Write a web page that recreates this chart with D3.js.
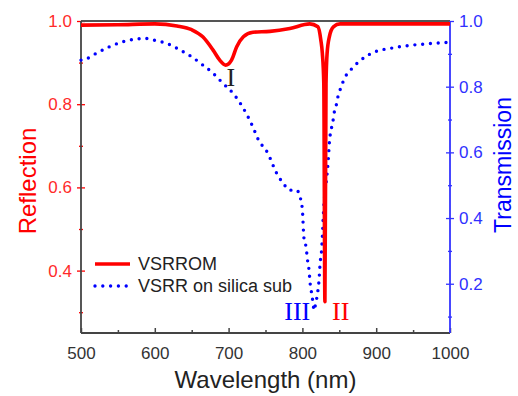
<!DOCTYPE html>
<html>
<head>
<meta charset="utf-8">
<style>
    body { margin: 0; background: #fff; }
    svg { display: block; font-family: "Liberation Sans", Arial, sans-serif; }
    .axis .domain { display: none; }
</style>
</head>
<body>
<svg width="518" height="396"></svg>
<script src="https://d3js.org/d3.v7.min.js"></script>
<script>
// reflection of VSRROM (red, left axis)
let reflWl  = [500, 550, 600, 630, 650, 665, 679, 688, 696, 704, 711, 720, 733, 756, 783, 810, 821, 825, 827, 829, 830.5, 832, 833.5, 836.5, 842, 851, 900, 1000];
let reflVal = [0.990, 0.991, 0.993, 0.988, 0.979, 0.962, 0.930, 0.906, 0.894, 0.906, 0.938, 0.962, 0.973, 0.975, 0.982, 0.993, 0.986, 0.954, 0.923, 0.85, 0.325, 0.85, 0.923, 0.962, 0.986, 0.993, 0.993, 0.993];

// transmission of VSRR on silica (blue dotted, right axis)
let transWl  = [500, 505, 521, 539, 557, 575, 587, 598, 616, 634, 650, 665, 679, 692, 706, 719, 733, 740, 753, 765, 774, 783, 792, 797, 800, 802, 805, 807, 809, 810.5, 812.5, 814.5, 815.7, 818, 820.5, 822.5, 824, 826, 827, 828, 829, 830.5, 833, 835, 836.5, 838, 841, 843, 846.5, 848, 852, 858, 865, 876, 898, 920, 943, 966, 1000];
let transVal = [0.881, 0.883, 0.902, 0.922, 0.937, 0.945, 0.947, 0.942, 0.932, 0.912, 0.891, 0.866, 0.841, 0.811, 0.780, 0.738, 0.677, 0.640, 0.598, 0.537, 0.506, 0.485, 0.485, 0.463, 0.424, 0.341, 0.311, 0.271, 0.241, 0.201, 0.171, 0.140, 0.119, 0.140, 0.171, 0.210, 0.262, 0.302, 0.341, 0.393, 0.433, 0.476, 0.524, 0.576, 0.628, 0.659, 0.689, 0.720, 0.750, 0.768, 0.796, 0.830, 0.850, 0.875, 0.906, 0.917, 0.925, 0.930, 0.935];

let xTicks = [500, 600, 700, 800, 900, 1000];
let xMinor = [550, 650, 750, 850, 950];
let reflTicks = [0.4, 0.6, 0.8, 1.0];
let reflMinor = [0.3, 0.5, 0.7, 0.9];
let transTicks = [0.2, 0.4, 0.6, 0.8, 1.0];
let transMinor = [0.1, 0.3, 0.5, 0.7, 0.9];

let margin = { top: 21, right: 68, bottom: 63, left: 81 };
let width = 518, height = 396;
let svg = d3.select("svg");

let red = "#ff0000", blue = "#0000ff", gray = "#444";

let x = d3.scaleLinear().domain([500, 1000]).range([margin.left, width - margin.right]);
let yR = d3.scaleLinear().domain([0.25, 1.0]).range([height - margin.bottom, margin.top]);
let yT = d3.scaleLinear().domain([0.05, 1.0]).range([height - margin.bottom, margin.top]);

let x0 = x.range()[0], x1 = x.range()[1];
let yb = yR.range()[0], yt = yR.range()[1];

// bottom axis, ticks pointing in
let xAxis = svg.append("g").attr("class", "axis").attr("transform", `translate(0,${yb})`)
    .call(d3.axisBottom(x).tickValues(xTicks).tickSize(-5).tickPadding(10).tickFormat(d3.format("d")));
xAxis.selectAll("line").attr("stroke", gray).attr("stroke-width", 1.5);
xAxis.selectAll("text").attr("fill", "#333").style("font-size", "17px").attr("dy", "0.95em");
svg.append("g").attr("class", "axis").attr("transform", `translate(0,${yb})`)
    .call(d3.axisBottom(x).tickValues(xMinor).tickSize(-3).tickFormat(""))
    .selectAll("line").attr("stroke", gray).attr("stroke-width", 1.5);

// left axis (reflection)
let lAxis = svg.append("g").attr("class", "axis").attr("transform", `translate(${x0 + 4},0)`)
    .call(d3.axisLeft(yR).tickValues(reflTicks).tickSize(8).tickPadding(5).tickFormat(d3.format(".1f")));
lAxis.selectAll("line").attr("stroke", red).attr("stroke-width", 1.3);
lAxis.selectAll("text").attr("fill", "#ff2a2a").style("font-size", "17px");
svg.append("g").attr("class", "axis").attr("transform", `translate(${x0 + 2},0)`)
    .call(d3.axisLeft(yR).tickValues(reflMinor).tickSize(4).tickFormat(""))
    .selectAll("line").attr("stroke", red).attr("stroke-width", 1.3);

// right axis (transmission)
let rAxis = svg.append("g").attr("class", "axis").attr("transform", `translate(${x1 - 4},0)`)
    .call(d3.axisRight(yT).tickValues(transTicks).tickSize(8).tickPadding(5).tickFormat(d3.format(".1f")));
rAxis.selectAll("line").attr("stroke", "#3333ff").attr("stroke-width", 1.3);
rAxis.selectAll("text").attr("fill", "#3030ff").style("font-size", "17px");
svg.append("g").attr("class", "axis").attr("transform", `translate(${x1 - 2},0)`)
    .call(d3.axisRight(yT).tickValues(transMinor).tickSize(4).tickFormat(""))
    .selectAll("line").attr("stroke", "#3333ff").attr("stroke-width", 1.3);

// frame lines
svg.append("line").attr("x1", x0).attr("x2", x1).attr("y1", yt).attr("y2", yt).attr("stroke", "#555").attr("stroke-width", 1.8);
svg.append("line").attr("x1", x0).attr("x2", x1).attr("y1", yb).attr("y2", yb).attr("stroke", gray).attr("stroke-width", 1.8);
svg.append("line").attr("x1", x0).attr("x2", x0).attr("y1", yt).attr("y2", yb).attr("stroke", gray).attr("stroke-width", 1.8);
svg.append("line").attr("x1", x1).attr("x2", x1).attr("y1", yt).attr("y2", yb).attr("stroke", "#3333ff").attr("stroke-width", 1.8);

// curves
let transLine = d3.line().x((d, i) => x(transWl[i])).y(d => yT(d)).curve(d3.curveMonotoneX);
svg.append("path").attr("d", transLine(transVal))
    .attr("fill", "none").attr("stroke", blue).attr("stroke-width", 3.4)
    .attr("stroke-linecap", "round").attr("stroke-dasharray", "0 7.8");

let reflLine = d3.line().x((d, i) => x(reflWl[i])).y(d => yR(d)).curve(d3.curveMonotoneX);
svg.append("path").attr("d", reflLine(reflVal))
    .attr("fill", "none").attr("stroke", red).attr("stroke-width", 3.6)
    .attr("stroke-linejoin", "round");

// axis titles
svg.append("text").attr("x", (x0 + x1) / 2).attr("y", 388).attr("text-anchor", "middle")
    .attr("fill", "#222").style("font-size", "24px").text("Wavelength (nm)");
svg.append("text").attr("transform", `translate(36,${(yt + yb) / 2 + 4}) rotate(-90)`).attr("text-anchor", "middle")
    .attr("fill", red).style("font-size", "24px").text("Reflection");
svg.append("text").attr("transform", `translate(511,${(yt + yb) / 2 - 12}) rotate(-90)`).attr("text-anchor", "middle")
    .attr("fill", blue).style("font-size", "23px").text("Transmission");

// legend
let legend = svg.append("g");
legend.append("line").attr("x1", 95).attr("x2", 130).attr("y1", 264).attr("y2", 264)
    .attr("stroke", red).attr("stroke-width", 3.6);
legend.append("text").attr("x", 138).attr("y", 270).attr("fill", "#222").style("font-size", "18px").text("VSRROM");
legend.append("line").attr("x1", 95).attr("x2", 130).attr("y1", 286).attr("y2", 286)
    .attr("stroke", blue).attr("stroke-width", 3.4).attr("stroke-linecap", "round").attr("stroke-dasharray", "0 7.8");
legend.append("text").attr("x", 138).attr("y", 292).attr("fill", "#222").style("font-size", "18px").text("VSRR on silica sub");

// resonance labels
let roman = [
    { t: "I", wl: 703, y: 86, c: "#222" },
    { t: "III", wl: 793, y: 320, c: blue },
    { t: "II", wl: 852, y: 320, c: red }
];
svg.selectAll(".roman").data(roman).join("text")
    .attr("class", "roman")
    .attr("x", d => x(d.wl)).attr("y", d => d.y).attr("text-anchor", "middle")
    .attr("fill", d => d.c).style("font-family", "'Liberation Serif', 'Times New Roman', serif")
    .style("font-size", "26px").text(d => d.t);
</script>
</body>
</html>
